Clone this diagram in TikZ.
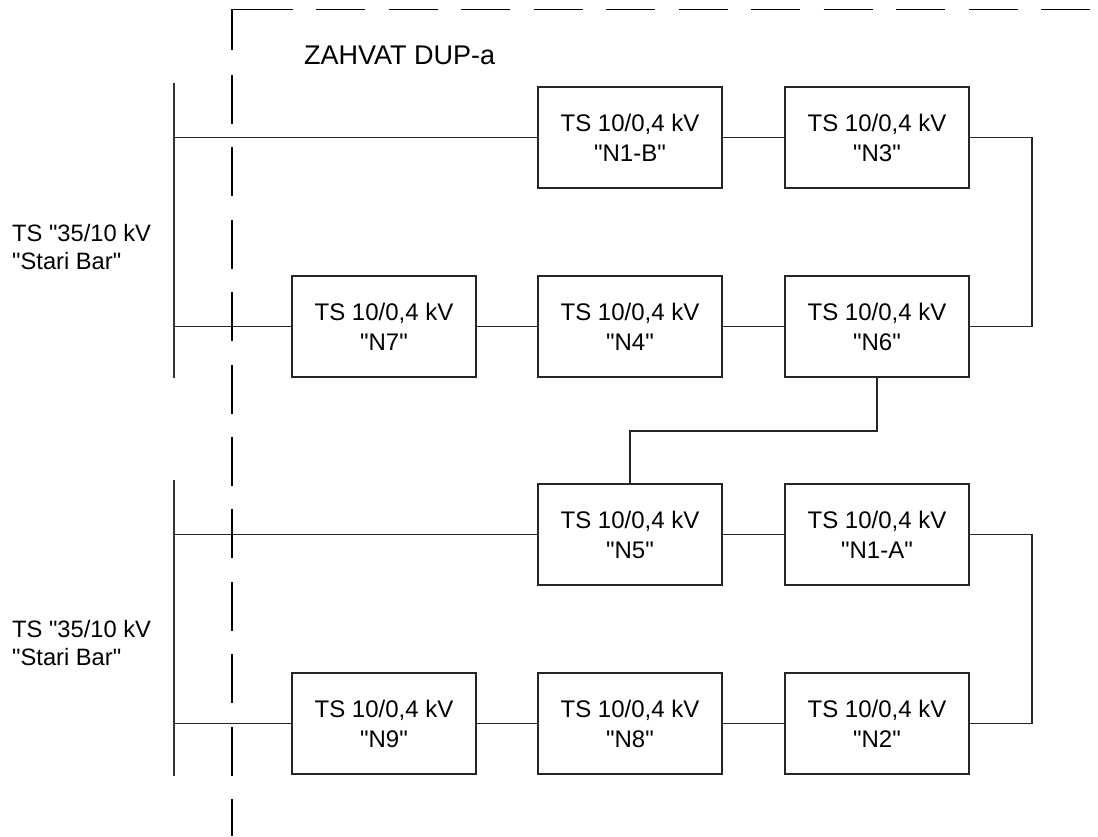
\documentclass[tikz,border=0pt]{standalone}
\usepackage{fontspec}
\setmainfont{Liberation Sans}[Ligatures=TeXOff]
\begin{document}
\begin{tikzpicture}[x=1pt,y=-1pt,
  ts/.style={draw=black!85, line width=1.2pt, minimum width=184pt, minimum height=101pt,
    inner sep=0pt, align=center, font=\fontsize{24}{30}\selectfont},
  wire/.style={draw=black!85, line width=1.2pt},
  bus/.style={draw=black!80, line width=1.4pt},
  boundary/.style={draw=black, line width=1.2pt},
  lbl/.style={inner sep=0pt, align=left, font=\fontsize{23.7}{28}\selectfont}]
\useasboundingbox (0,0) rectangle (1098,836);

% dashed boundary of the plan area
\coordinate (cH) at (293,9.5);
\coordinate (cC) at (232,9.5);
\coordinate (cV) at (232,50);
\coordinate (hS) at (316,9.5);
\coordinate (hE) at (1098,9.5);
\coordinate (vS) at (232,75);
\coordinate (vE) at (232,836);
\draw[boundary] (cH) -- (cC) -- (cV);
\draw[boundary, dash pattern=on 49pt off 23.5pt] (hS) -- (hE);
\draw[boundary, dash pattern=on 49pt off 23.4pt] (vS) -- (vE);

\node[anchor=base west, inner sep=0pt, font=\fontsize{27}{30}\selectfont] (zahvat) at (304,64) {ZAHVAT DUP-a};

% busbars
\coordinate (busAtop) at (174,83);
\coordinate (busAbot) at (174,378);
\coordinate (busBtop) at (174,480);
\coordinate (busBbot) at (174,776);
\draw[bus] (busAtop) -- (busAbot);
\draw[bus] (busBtop) -- (busBbot);
\node[lbl, anchor=west] (labA) at (12,247) {TS "35/10 kV\\"Stari Bar"};
\node[lbl, anchor=west] (labB) at (12,643) {TS "35/10 kV\\"Stari Bar"};

% substations
\node[ts] (n1b) at (630,137.5) {TS 10/0,4 kV\\"N1-B"};
\node[ts] (n3)  at (877,137.5) {TS 10/0,4 kV\\"N3"};
\node[ts] (n7)  at (384,326.5) {TS 10/0,4 kV\\"N7"};
\node[ts] (n4)  at (630,326.5) {TS 10/0,4 kV\\"N4"};
\node[ts] (n6)  at (877,326.5) {TS 10/0,4 kV\\"N6"};
\node[ts] (n5)  at (630,534.5) {TS 10/0,4 kV\\"N5"};
\node[ts] (n1a) at (877,534.5) {TS 10/0,4 kV\\"N1-A"};
\node[ts] (n9)  at (384,723.5) {TS 10/0,4 kV\\"N9"};
\node[ts] (n8)  at (630,723.5) {TS 10/0,4 kV\\"N8"};
\node[ts] (n2)  at (877,723.5) {TS 10/0,4 kV\\"N2"};

% taps on busbars
\coordinate (t1) at (174,137.5);
\coordinate (t2) at (174,326.5);
\coordinate (t3) at (174,534.5);
\coordinate (t4) at (174,723.5);
\draw[wire] (t1) -- (n1b.west);
\draw[wire] (t2) -- (n7.west);
\draw[wire] (t3) -- (n5.west);
\draw[wire] (t4) -- (n9.west);

% chains
\draw[wire] (n1b.east) -- (n3.west);
\draw[wire] (n7.east) -- (n4.west);
\draw[wire] (n4.east) -- (n6.west);
\draw[wire] (n5.east) -- (n1a.west);
\draw[wire] (n9.east) -- (n8.west);
\draw[wire] (n8.east) -- (n2.west);

% loops
\coordinate (rA) at (1032,232);
\coordinate (rB) at (1032,629);
\coordinate (mid) at (750,431);
\draw[wire] (n3.east) -| (rA) |- (n6.east);
\draw[wire] (n1a.east) -| (rB) |- (n2.east);
\draw[wire] (n6.south) |- (mid) -| (n5.north);
\end{tikzpicture}
\end{document}
